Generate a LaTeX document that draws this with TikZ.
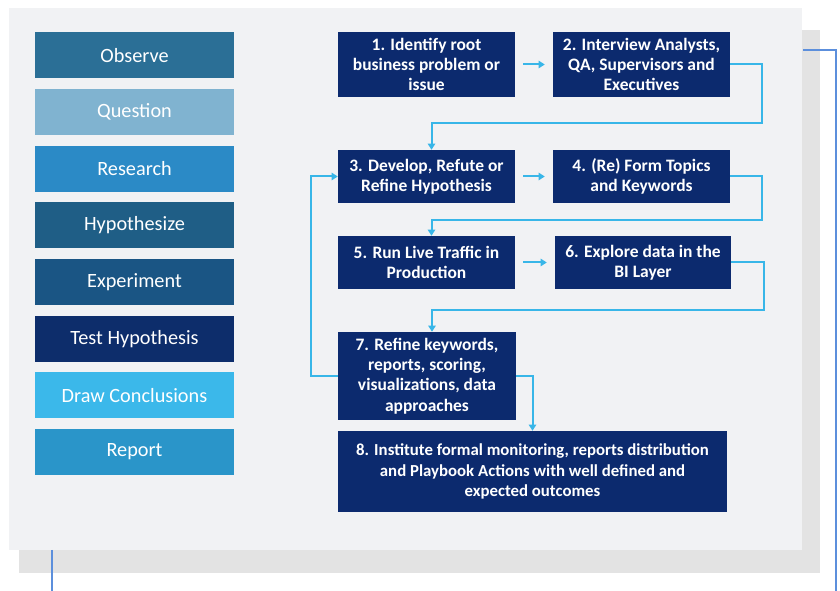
\documentclass[tikz,border=0pt]{standalone}
\usepackage{fontspec}
\setmainfont{Carlito}
\usetikzlibrary{arrows.meta,calc,positioning}
\definecolor{panelc}{HTML}{F1F2F4}
\definecolor{shadowc}{HTML}{E3E3E3}
\definecolor{linec}{HTML}{5C8FDC}
\definecolor{arrowc}{HTML}{38B6E8}
\definecolor{navyc}{HTML}{0C2A6E}
\definecolor{obsc}{HTML}{2B6F96}
\definecolor{quec}{HTML}{80B3D0}
\definecolor{resc}{HTML}{2B8AC6}
\definecolor{hypc}{HTML}{1F5E86}
\definecolor{expc}{HTML}{1A5584}
\definecolor{testc}{HTML}{0D2D6B}
\definecolor{drawc}{HTML}{3BB8EA}
\definecolor{repc}{HTML}{2A95C9}

\begin{document}
\begin{tikzpicture}[x=0.75pt, y=-0.75pt,
  stage/.style={rectangle, text=white, minimum width=149.25pt, minimum height=34.5pt,
    inner sep=0pt, font=\fontsize{15.2}{17}\selectfont},
  stepbox/.style={rectangle, fill=navyc, text=white, align=center, inner sep=0pt,
    minimum width=132.75pt, minimum height=39.75pt, font=\bfseries\fontsize{13.1}{15.2}\selectfont},
  flow/.style={draw=arrowc, line width=1.5pt, -{Triangle[length=4.5pt,width=5.5pt]}}]
   \useasboundingbox (0,0) rectangle (840,591);
   % backdrop
   \fill[shadowc] (19,30) rectangle (820,573);
   \fill[panelc] (9,8) rectangle (802,550);
   \draw[linec, line width=0.9pt] (803,50) -- (836,50) -- (836,591);
   \draw[linec, line width=0.9pt] (52,550) -- (52,591);
   % scientific method column
   \foreach \txt/\col [count=\i] in {Observe/obsc, Question/quec, Research/resc,
       Hypothesize/hypc, Experiment/expc, Test Hypothesis/testc,
       Draw Conclusions/drawc, Report/repc}
     \node[stage, fill=\col] (m\i) at (134.5, {55.5+56.65*(\i-1)}) {\txt};
   % steps
   \begin{scope}[every node/.style={stepbox}]
    \node[minimum height=48.75pt] (s1) at (426.5,64.5) {1. Identify root\\business problem or\\issue};
    \node[minimum height=48.75pt] (s2) at (641.5,64.5) {2. Interview Analysts,\\QA, Supervisors and\\Executives};
    \node (s3) at (426.5,176.5) {3. Develop, Refute or\\Refine Hypothesis};
    \node (s4) at (641.5,176.5) {4. (Re) Form Topics\\and Keywords};
    \node (s5) at (426.5,262.5) {5. Run Live Traffic in\\Production};
    \node[minimum width=132pt] (s6) at (643,262.5) {6. Explore data in the\\BI Layer};
    \node[minimum width=133.5pt, minimum height=66pt] (s7) at (427,376) {7. Refine keywords,\\reports, scoring,\\visualizations, data\\approaches};
    \node[minimum width=291.75pt, minimum height=60.75pt, font=\bfseries\fontsize{12.6}{15.2}\selectfont] (s8) at (532.5,471.5) {8. Institute formal monitoring, reports distribution\\and Playbook Actions with well defined and\\expected outcomes};
   \end{scope}
   \begin{scope}[every path/.style={flow}]
    \draw[shorten <=6pt, shorten >=6pt] (s1) -- (s2);
    \draw[shorten <=6pt, shorten >=6pt] (s3) -- (s4);
    \draw[shorten <=6pt, shorten >=6pt] (s5) -- (s6);
    \draw (s2.east) -- ++(32,0) |- ($(s3.north)+(5,-27)$) -- ($(s3.north)+(5,0)$);
    \draw (s4.east) -- ++(32,0) |- ($(s5.north)+(5,-16)$) -- ($(s5.north)+(5,0)$);
    \draw (s6.east) -- ++(33,0) |- ($(s7.north)+(5,-22)$) -- ($(s7.north)+(5,0)$);
    \draw (s7.east) -| (s8.north);
    \draw (s7.west) -- ++(-27,0) |- (s3.west);
   \end{scope}
\end{tikzpicture}
\end{document}
